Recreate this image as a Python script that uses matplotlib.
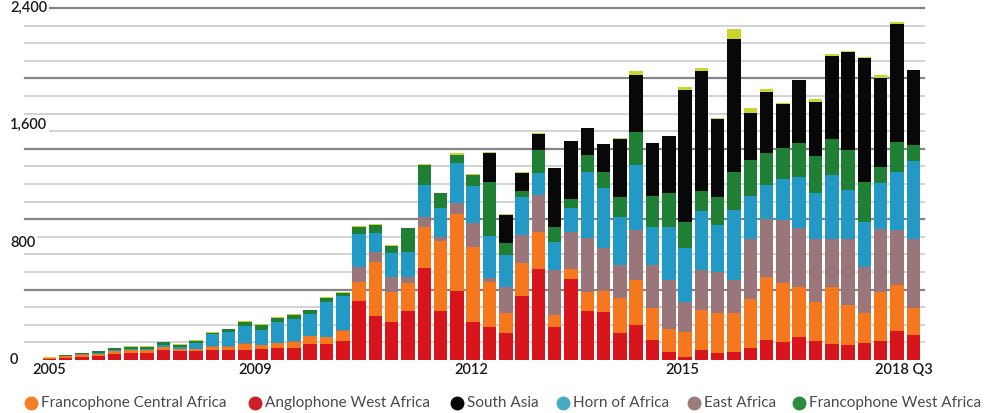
import matplotlib
matplotlib.use("Agg")
import matplotlib.pyplot as plt
from matplotlib.lines import Line2D
from matplotlib.transforms import blended_transform_factory
import numpy as np

plt.rcParams['font.family'] = ['Lato', 'DejaVu Sans']

# ---------------- data (quarterly, 2005 -> 2018 Q3) ----------------
anglophone_west = [8, 15, 20, 25, 42, 48, 48, 68, 60, 60,
                   68, 68, 68, 72, 80, 80, 109, 109, 132, 402,
                   302, 257, 336, 625, 336, 473, 257, 227, 186, 436,
                   618, 227, 550, 336, 330, 186, 239, 136, 57, 23,
                   68, 45, 57, 80, 136, 125, 155, 132, 109, 102,
                   118, 132, 200, 170]
francophone_central = [6, 14, 16, 18, 18, 20, 20, 18, 14, 15,
                       23, 23, 42, 28, 34, 45, 55, 46, 68, 128,
                       368, 205, 187, 280, 477, 522, 516, 303, 132, 223,
                       257, 80, 68, 130, 143, 235, 306, 216, 152, 170,
                       273, 273, 261, 334, 432, 398, 345, 266, 391, 273,
                       200, 334, 311, 182]
east_africa = [0, 0, 3, 0, 4, 3, 3, 3, 3, 3,
               3, 3, 3, 3, 3, 3, 3, 3, 3, 106,
               69, 106, 45, 72, 23, 78, 159, 27, 182, 193,
               250, 307, 257, 364, 289, 227, 341, 296, 336, 205,
               273, 284, 227, 409, 391, 432, 398, 425, 323, 448,
               318, 425, 375, 471]
horn_of_africa = [0, 0, 2, 4, 5, 6, 6, 12, 10, 40,
                  83, 100, 118, 100, 144, 152, 147, 240, 233, 221,
                  125, 159, 171, 216, 202, 272, 254, 288, 216, 262,
                  148, 193, 159, 454, 413, 325, 444, 261, 364, 364,
                  404, 318, 478, 295, 234, 279, 352, 313, 438, 336,
                  307, 318, 398, 536]
francophone_west = [2, 4, 5, 12, 14, 14, 14, 22, 18, 12,
                    9, 14, 30, 33, 27, 28, 24, 22, 20, 50,
                    55, 50, 160, 137, 100, 52, 77, 371, 80, 38,
                    159, 102, 64, 114, 109, 136, 227, 209, 232, 181,
                    136, 189, 261, 246, 221, 214, 227, 255, 244, 273,
                    273, 109, 204, 107]
south_asia = [0, 0, 0, 0, 0, 0, 0, 0, 0, 0,
              0, 0, 0, 0, 0, 0, 0, 0, 0, 0,
              0, 0, 0, 0, 0, 0, 0, 197, 195, 126,
              108, 400, 393, 184, 187, 400, 386, 362, 384, 898,
              819, 535, 902, 318, 416, 300, 430, 370, 568, 668,
              841, 607, 803, 511]
other = [2, 2, 2, 3, 2, 2, 2, 2, 2, 3,
         3, 3, 5, 7, 3, 3, 3, 12, 10, 7,
         6, 5, 3, 4, 3, 12, 3, 3, 2, 2,
         10, 2, 2, 2, 2, 2, 30, 2, 2, 18,
         16, 4, 68, 38, 16, 2, 2, 19, 11, 9,
         11, 18, 16, 0]

series_names = ["Anglophone West Africa", "Francophone Central Africa", "East Africa",
                "Horn of Africa", "Francophone West Africa", "South Asia", "Other"]
series_values = [anglophone_west, francophone_central, east_africa,
                 horn_of_africa, francophone_west, south_asia, other]
series_colors = ["#d8141d", "#f6781e", "#9a7579", "#2399c6", "#1f8035", "#080808", "#c9d52c"]

x_tick_labels = ["2005", "2009", "2012", "2015", "2018 Q3"]
x_tick_pos = [0, 12.6, 25.9, 38.8, 52.4]
y_tick_values = [0, 800, 1600, 2400]

legend_order = ["Francophone Central Africa", "Anglophone West Africa", "South Asia",
                "Horn of Africa", "East Africa", "Francophone West Africa"]
legend_colors = {"Francophone Central Africa": "#f37f22", "Anglophone West Africa": "#cc1f27",
                 "South Asia": "#050505", "Horn of Africa": "#47a9c7",
                 "East Africa": "#9a7c7b", "Francophone West Africa": "#2e8b3e"}

# ---------------- figure ----------------
W, H = 986, 413
fig = plt.figure(figsize=(W / 100, H / 100), dpi=100)
fig.patch.set_facecolor("white")

ax_left, ax_right, ax_bottom, ax_top = 25, 924, 360, 8   # pixels
ax = fig.add_axes([ax_left / W, (H - ax_bottom) / H,
                   (ax_right - ax_left) / W, (ax_bottom - ax_top) / H])
first_c, step = 49.4, 16.3
ax.set_xlim((ax_left - first_c) / step, (ax_right - first_c) / step)
ax.set_ylim(0, 2400)
ax.axis("off")

# gridlines
for v in range(120, 2401, 120):
    if v % 480 == 0:
        ax.axhline(v, color="#858585", lw=1.6, zorder=0, clip_on=False)
    else:
        ax.axhline(v, color="#d2d2d2", lw=1.4, zorder=0, clip_on=False)

# stacked bars
n = len(anglophone_west)
x = np.arange(n)
bottom = np.zeros(n)
for vals, col in zip(series_values, series_colors):
    vals = np.array(vals, dtype=float)
    ax.bar(x, vals, bottom=bottom, width=0.83, color=col, linewidth=0, zorder=2)
    bottom += vals

# y labels
ytr = blended_transform_factory(fig.transFigure, ax.transData)
for v in y_tick_values:
    ax.text(10 / W, v, f"{v:,}", transform=ytr, ha="left", va="center",
            fontsize=10.5, color="#1a1a1a", fontweight="semibold", zorder=5,
            bbox=dict(boxstyle="square,pad=0.15", fc="white", ec="none"))

# x labels
xtr = blended_transform_factory(ax.transData, fig.transFigure)
for p, lab in zip(x_tick_pos, x_tick_labels):
    ax.text(p, (H - 370) / H, lab, transform=xtr, ha="center", va="center",
            fontsize=10.5, color="#1a1a1a", fontweight="semibold")

# legend (manual)
leg_marker_x = [31, 255, 457, 563, 694, 799]
leg_y = (H - 403) / H
for mx, name in zip(leg_marker_x, legend_order):
    fig.add_artist(Line2D([mx / W], [leg_y], marker="o", markersize=9,
                          color=legend_colors[name], linestyle="none",
                          transform=fig.transFigure))
    fig.text((mx + 10) / W, leg_y, name, ha="left", va="center",
             fontsize=11, color="#4a4a4a")

fig.savefig("out.png", dpi=100, facecolor="white")
